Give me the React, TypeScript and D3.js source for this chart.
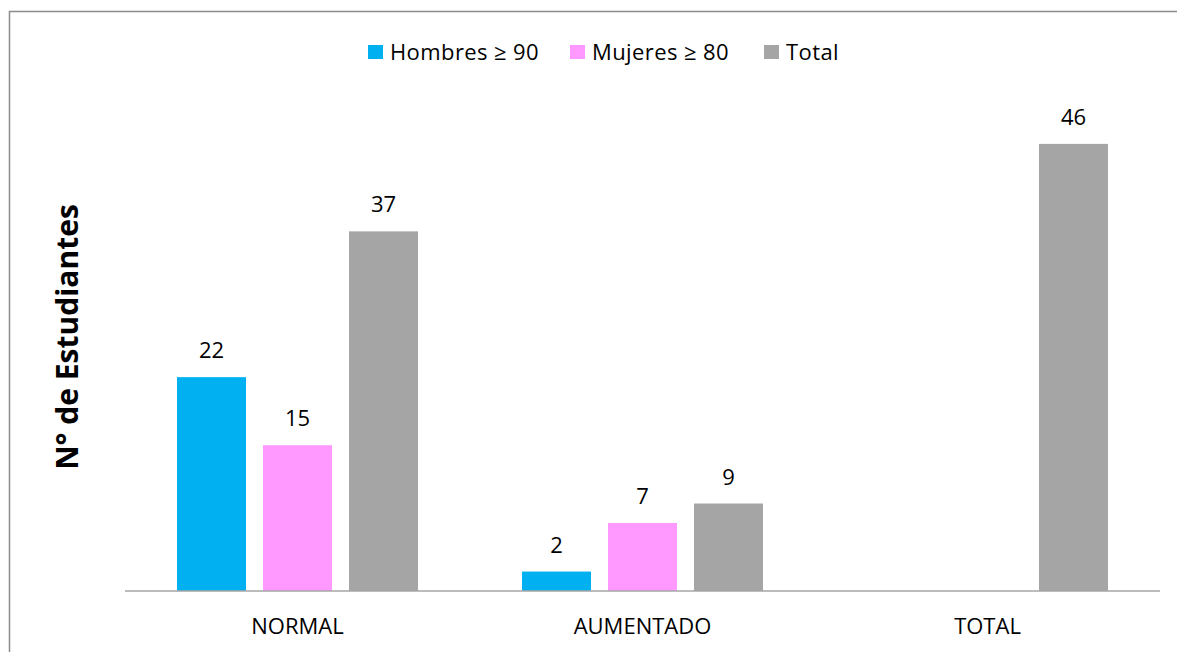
import React from "react";
import * as d3 from "d3";

const categories = ["NORMAL", "AUMENTADO", "TOTAL"];
const seriesNames = ["Hombres ≥ 90", "Mujeres ≥ 80", "Total"];
const hombres = [22, 2, null];
const mujeres = [15, 7, null];
const total = [37, 9, 46];
const colors = ["#00B0F0", "#FF99FF", "#A5A5A5"];

const W = 1177;
const H = 652;
const font = "'Open Sans', 'Noto Sans', sans-serif";
const fs = 22;

export default function App() {
  const seriesValues = [hombres, mujeres, total];
  const x0 = d3.scaleBand<string>().domain(categories).range([125, 1160]).padding(0);
  const groupPad = 52;
  const x1 = d3
    .scaleBand<number>()
    .domain([0, 1, 2])
    .range([groupPad, x0.bandwidth() - groupPad])
    .paddingInner(17 / 86)
    .paddingOuter(0);
  const y = d3.scaleLinear().domain([0, 50]).range([591, 105]);

  const legendX = [368, 570, 764];

  return (
    <svg width={W} height={H} style={{ position: "absolute", left: 0, top: 0, background: "#fff" }}>
      <rect x={0} y={0} width={W} height={H} fill="#fff" />
      <path d={`M9.5,${H} V11.5 H${W}`} fill="none" stroke="#8c8c8c" strokeWidth={1.5} />
      {/* legend */}
      {seriesNames.map((s, i) => (
        <g key={s}>
          <rect x={legendX[i]} y={45} width={15} height={14} fill={colors[i]} />
          <text x={legendX[i] + 22} y={60} fontFamily={font} fontSize={fs} fill="#000" letterSpacing={0.4}>
            {s}
          </text>
        </g>
      ))}
      {/* bars */}
      {categories.map((c, ci) =>
        seriesValues.map((vals, si) => {
          const v = vals[ci];
          if (v == null) return null;
          const bx = (x0(c) as number) + (x1(si) as number);
          const by = y(v);
          return (
            <g key={c + si}>
              <rect x={bx} y={by} width={x1.bandwidth()} height={y(0) - by} fill={colors[si]} />
              <text
                x={bx + x1.bandwidth() / 2}
                y={by - 19}
                textAnchor="middle"
                fontFamily={font}
                fontSize={fs}
                fill="#000"
              >
                {v}
              </text>
            </g>
          );
        })
      )}
      {/* axis */}
      <line x1={125} x2={1160} y1={591} y2={591} stroke="#a6a6a6" strokeWidth={1.5} />
      {categories.map((c) => (
        <text
          key={c}
          x={(x0(c) as number) + x0.bandwidth() / 2}
          y={634}
          textAnchor="middle"
          fontFamily={font}
          fontSize={fs}
          fill="#000"
        >
          {c}
        </text>
      ))}
      <text
        transform={`translate(78,337) rotate(-90)`}
        textAnchor="middle"
        fontFamily={font}
        fontSize={30}
        fontWeight="bold"
        fill="#000"
      >
        N° de Estudiantes
      </text>
    </svg>
  );
}
